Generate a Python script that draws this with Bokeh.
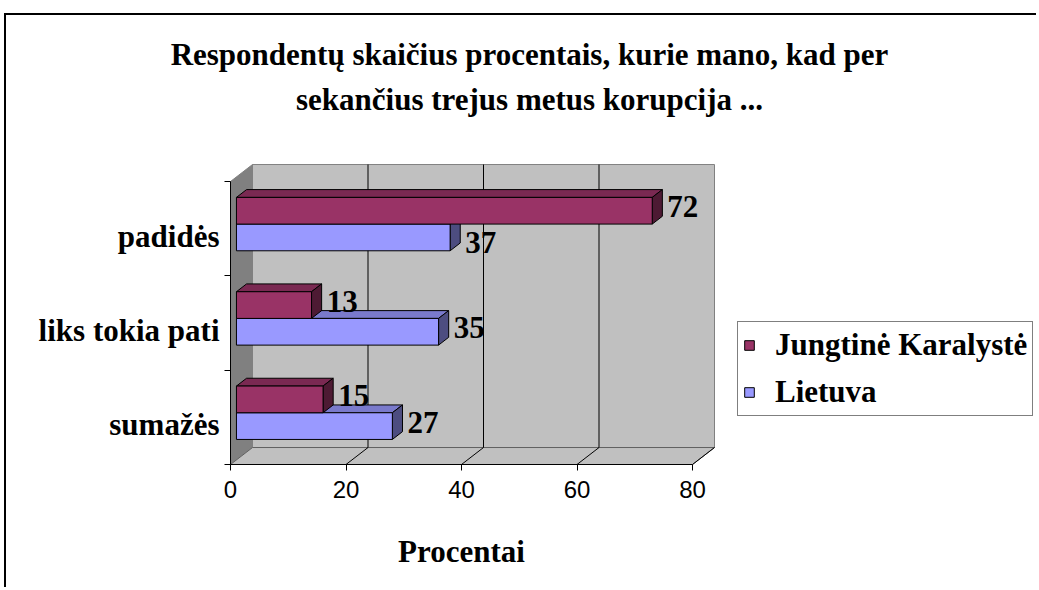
import numpy as np
from bokeh.plotting import figure
from bokeh.models import (Range1d, FixedTicker, CustomJSTickFormatter, Legend,
                          LegendItem, Label, ColumnDataSource)
from bokeh.core.properties import value
from bokeh.embed import file_html
from bokeh.resources import INLINE

# ---------------- data ----------------
title_lines = ["Respondentų skaičius procentais, kurie mano, kad per",
               "sekančius trejus metus korupcija ..."]
categories = ["sumažės", "liks tokia pati", "padidės"]      # bottom -> top
series_names = ["Jungtinė Karalystė", "Lietuva"]
uk_values = [15, 13, 72]
lt_values = [27, 35, 37]
x_ticks = [0, 20, 40, 60, 80]
x_title = "Procentai"

# ---------------- geometry / style ----------------
X_MAX = x_ticks[-1]
N = len(categories)
DEPTH_X = 3.81      # depth of the 3D box, in value units
DEPTH_Y = 0.18      # depth of the 3D box, in category units
BAR_H = 0.283
D0, D1 = 0.27, 0.73
SERIF = "Liberation Serif"
FS = "31px"
W, H = 1032, 574
PX_X, PX_Y = 5.775, 94.33          # pixels per value unit / per category unit
X0, Y0 = 224.0, 449.0              # canvas position of the (0, 0) corner

UK_COLS = ("#993366", "#7a2952", "#4d1a33")   # front, top, side
LT_COLS = ("#9999ff", "#7a7acc", "#4d4d80")


def proj(v, y, d):
    return v + d * DEPTH_X, y + d * DEPTH_Y


def poly(pts):
    return [q[0] for q in pts], [q[1] for q in pts]


x_start = -X0 / PX_X
y_end = Y0 / PX_Y
p = figure(width=W, height=H, output_backend="svg", toolbar_location=None,
           x_range=Range1d(x_start, x_start + W / PX_X),
           y_range=Range1d(y_end - H / PX_Y, y_end), min_border=0)
p.styles = {"border-top": "2px solid black", "border-left": "2px solid black",
            "margin-top": "13px", "margin-left": "4px"}
p.title.visible = False
p.xgrid.visible = False
p.ygrid.visible = False
p.outline_line_color = None
p.background_fill_color = "white"

# walls & floor
sx, sy = poly([proj(0, 0, 0), proj(0, 0, 1), proj(0, N, 1), proj(0, N, 0)])
p.patch(sx, sy, fill_color="#808080", line_color="#808080")
bx, by = poly([proj(0, 0, 1), proj(X_MAX, 0, 1), proj(X_MAX, N, 1), proj(0, N, 1)])
p.patch(bx, by, fill_color="#c0c0c0", line_color="#808080")
fx, fy = poly([proj(0, 0, 0), proj(X_MAX, 0, 0), proj(X_MAX, 0, 1), proj(0, 0, 1)])
p.patch(fx, fy, fill_color="#c0c0c0", line_color="#606060")

# gridlines on back wall and floor
gx0, gy0, gx1, gy1 = [], [], [], []
for t in x_ticks[1:-1]:
    a, b = proj(t, 0, 1), proj(t, N, 1)
    gx0.append(a[0]); gy0.append(a[1]); gx1.append(b[0]); gy1.append(b[1])
for t in x_ticks[1:]:
    a, b = proj(t, 0, 0), proj(t, 0, 1)
    gx0.append(a[0]); gy0.append(a[1]); gx1.append(b[0]); gy1.append(b[1])
p.segment(gx0, gy0, gx1, gy1, line_color="black", line_width=1)


def bar_faces(vals, upper):
    fronts, tops, sides = ([], []), ([], []), ([], [])
    for k, v in enumerate(vals):
        yb = k + 0.5 if upper else k + 0.5 - BAR_H
        yt = yb + BAR_H
        f = poly([proj(0, yb, D0), proj(v, yb, D0), proj(v, yt, D0), proj(0, yt, D0)])
        t = poly([proj(0, yt, D0), proj(v, yt, D0), proj(v, yt, D1), proj(0, yt, D1)])
        s = poly([proj(v, yb, D0), proj(v, yb, D1), proj(v, yt, D1), proj(v, yt, D0)])
        for acc, pg in ((fronts, f), (tops, t), (sides, s)):
            acc[0].append(pg[0]); acc[1].append(pg[1])
    return fronts, tops, sides


renderers = {}
for name, vals, upper, cols in ((series_names[1], lt_values, False, LT_COLS),
                                (series_names[0], uk_values, True, UK_COLS)):
    fronts, tops, sides = bar_faces(vals, upper)
    p.patches(tops[0], tops[1], fill_color=cols[1], line_color="black", line_width=1)
    p.patches(sides[0], sides[1], fill_color=cols[2], line_color="black", line_width=1)
    renderers[name] = p.patches(fronts[0], fronts[1], fill_color=cols[0],
                                line_color="black", line_width=1)

# data labels
lx, ly, lt_txt, loff = [], [], [], []
for k in range(N):
    for vals, upper, other in ((uk_values, True, lt_values), (lt_values, False, uk_values)):
        v = vals[k]
        yb = k + 0.5 if upper else k + 0.5 - BAR_H
        x, y = proj(v, yb + BAR_H / 2, 0.5)
        lx.append(v + D1 * DEPTH_X)
        ly.append(y)
        lt_txt.append(str(v))
        loff.append(9 if (not upper and other[k] > v) else 0)
src = ColumnDataSource(dict(x=lx, y=ly, text=lt_txt, yoff=loff))
p.text(x="x", y="y", text="text", y_offset="yoff", x_offset=5, source=src,
       text_font=value(SERIF), text_font_style="bold", text_font_size=value(FS),
       text_baseline="middle", text_align="left", text_color="black")

# x axis (fixed at the front edge of the floor)
xa = p.xaxis[0]
xa.fixed_location = 0
xa.ticker = FixedTicker(ticks=x_ticks)
xa.bounds = (0, X_MAX)
xa.axis_line_color = "black"
xa.major_tick_out = 6
xa.major_tick_in = 0
xa.minor_tick_out = 0
xa.minor_tick_in = 0
xa.major_tick_line_color = "black"
xa.major_label_text_font = "Liberation Sans"
xa.major_label_text_font_size = "24px"
xa.major_label_text_color = "black"
xa.major_label_standoff = 10

# y axis (fixed at the front-left edge)
ya = p.yaxis[0]
ya.fixed_location = 0
ya.ticker = FixedTicker(ticks=[k + 0.42 for k in range(N)], minor_ticks=list(range(N + 1)))
ya.formatter = CustomJSTickFormatter(args=dict(labels=categories),
                                     code="return labels[Math.floor(tick)];")
ya.bounds = (0, N)
ya.axis_line_color = "black"
ya.major_tick_out = 0
ya.major_tick_in = 0
ya.minor_tick_out = 6
ya.minor_tick_in = 0
ya.minor_tick_line_color = "black"
ya.major_label_standoff = 5
ya.major_label_text_font = SERIF
ya.major_label_text_font_style = "bold"
ya.major_label_text_font_size = FS
ya.major_label_text_color = "black"

# titles (screen units: x from left, y up from bottom of the frame)
for txt, yy in ((title_lines[0], 535), (title_lines[1], 490)):
    p.add_layout(Label(x=523, y=yy, x_units="screen", y_units="screen", text=txt,
                       text_align="center", text_baseline="alphabetic",
                       text_font=SERIF, text_font_style="bold", text_font_size=FS,
                       text_color="black"))
p.add_layout(Label(x=455, y=38, x_units="screen", y_units="screen", text=x_title,
                   text_align="center", text_baseline="alphabetic",
                   text_font=SERIF, text_font_style="bold", text_font_size=FS,
                   text_color="black"))

# legend
legend = Legend(items=[LegendItem(label=series_names[0], renderers=[renderers[series_names[0]]]),
                       LegendItem(label=series_names[1], renderers=[renderers[series_names[1]]])],
                location=(731, 173), margin=0, padding=5, spacing=11,
                glyph_width=12, glyph_height=12, label_standoff=20,
                label_text_font=SERIF, label_text_font_style="bold",
                label_text_font_size=FS, label_text_color="black",
                border_line_color="black", border_line_width=1,
                background_fill_color="white")
p.add_layout(legend)

open("out.html", "w").write(file_html(p, INLINE))
